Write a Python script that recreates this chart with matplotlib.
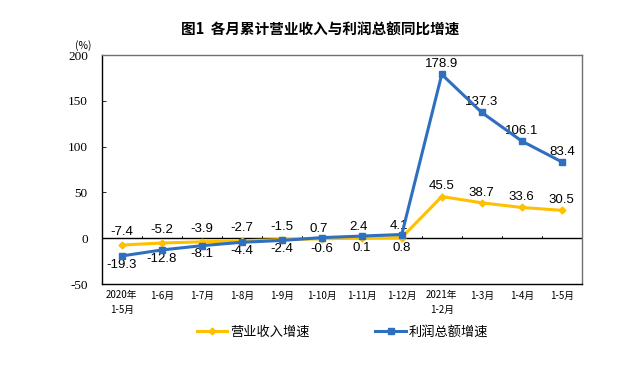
import matplotlib
matplotlib.use("Agg")
import matplotlib.pyplot as plt
from matplotlib.lines import Line2D

plt.rcParams['font.family'] = ['Noto Sans CJK SC', 'DejaVu Sans']

categories = ["2020年\n1-5月", "1-6月", "1-7月", "1-8月", "1-9月", "1-10月", "1-11月", "1-12月",
              "2021年\n1-2月", "1-3月", "1-4月", "1-5月"]
revenue = [-7.4, -5.2, -3.9, -2.7, -1.5, -0.6, 0.1, 0.8, 45.5, 38.7, 33.6, 30.5]
profit = [-19.3, -12.8, -8.1, -4.4, -2.4, 0.7, 2.4, 4.1, 178.9, 137.3, 106.1, 83.4]
yticks = [-50, 0, 50, 100, 150, 200]

YEL = "#FFC000"
BLU = "#2E6FC0"

fig = plt.figure(figsize=(6.4, 3.67), dpi=100)
ax = fig.add_axes([0.159, 0.226, 0.75, 0.624])
x = list(range(len(categories)))
ax.plot(x, revenue, color=YEL, lw=2.2, marker='D', ms=3.5, zorder=3)
ax.plot(x, profit, color=BLU, lw=2.2, marker='s', ms=4, zorder=4)
ax.axhline(0, color='black', lw=1, zorder=2)

ax.set_xlim(-0.5, len(categories) - 0.5)
ax.set_ylim(-50, 200)
ax.set_yticks(yticks)
ax.set_yticklabels([str(v) for v in yticks], fontsize=9.5, family='Liberation Serif')
ax.set_xticks([])
for i in range(len(categories) - 1):
    ax.plot([i + 0.5, i + 0.5], [0, 3], color='black', lw=0.6, zorder=2)
for i, c in enumerate(categories):
    ax.text(i, -57, c, ha='center', va='top', fontsize=7, linespacing=1.6)

ax.tick_params(axis='y', length=3, width=0.6, direction='in', pad=10)
ax.spines['left'].set_color('black')
ax.spines['left'].set_linewidth(1)
for s in ['top', 'right']:
    ax.spines[s].set_color('#707070')
    ax.spines[s].set_linewidth(1)
ax.spines['bottom'].set_color('black')
ax.spines['bottom'].set_linewidth(1)

fs = 9.5
lf = 'Liberation Sans'
for i in range(len(categories)):
    r, p = revenue[i], profit[i]
    if i < 5:
        ax.annotate(f"{r}", (i, r), xytext=(0, 5), textcoords='offset points', ha='center', va='bottom', fontsize=fs, family=lf)
        ax.annotate(f"{p}", (i, p), xytext=(0, -2), textcoords='offset points', ha='center', va='top', fontsize=fs, family=lf)
    elif i < 8:
        ax.annotate(f"{p}", (i, p), xytext=(-2, 2), textcoords='offset points', ha='center', va='bottom', fontsize=fs, family=lf)
        ax.annotate(f"{r}", (i, r), xytext=(0, -3), textcoords='offset points', ha='center', va='top', fontsize=fs, family=lf)
    else:
        ax.annotate(f"{r}", (i, r), xytext=(0, 3), textcoords='offset points', ha='center', va='bottom', fontsize=fs, family=lf)
        ax.annotate(f"{p}", (i, p), xytext=(0, 3), textcoords='offset points', ha='center', va='bottom', fontsize=fs, family=lf)

fig.text(0.5, 0.918, "图1  各月累计营业收入与利润总额同比增速", ha='center', va='center', fontsize=10.5, fontweight='bold')
fig.text(0.13, 0.875, "(%)", ha='center', va='center', fontsize=7.5)

handles = [Line2D([], [], color=YEL, lw=2.2, marker='D', ms=3.5),
           Line2D([], [], color=BLU, lw=2.2, marker='s', ms=4)]
fig.legend(handles, ["营业收入增速", "利润总额增速"], loc='center', bbox_to_anchor=(0.535, 0.095),
           ncol=2, frameon=False, fontsize=9.5, handlelength=2.3, handletextpad=0.2, columnspacing=5)

fig.savefig("out.png", dpi=100)
